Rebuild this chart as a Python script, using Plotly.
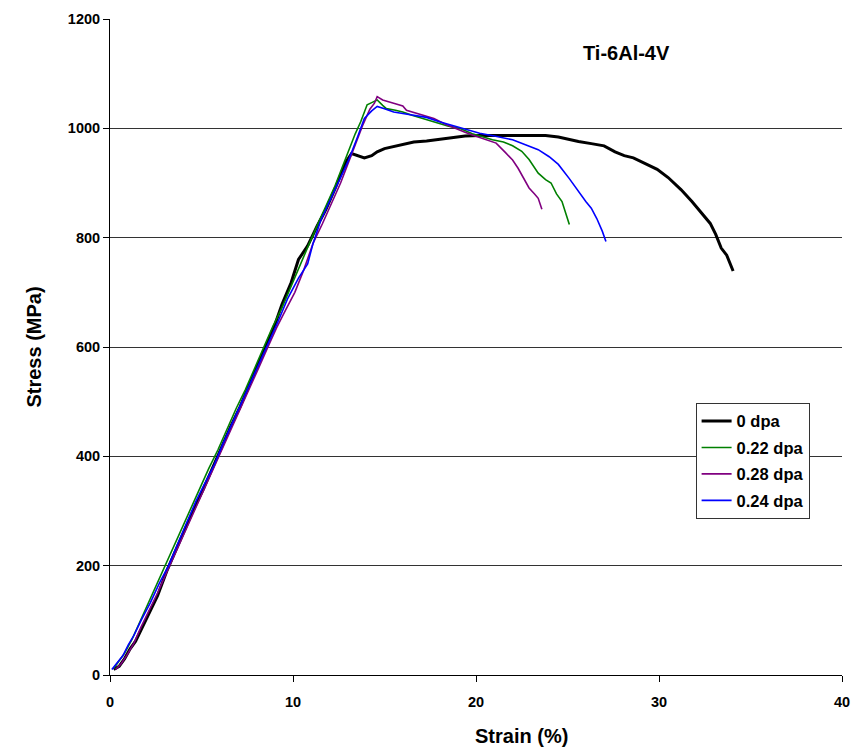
import plotly.graph_objects as go

# Tensile curves for Ti-6Al-4V at different irradiation doses
strain_0 = [0.2, 0.5, 0.8, 1.1, 1.4, 1.8, 2.2, 2.6, 3.1, 3.6, 4.1, 4.6, 5.1, 5.6, 6.1, 6.6,
            7.1, 7.6, 8.1, 8.5, 9.0, 9.4, 9.9, 10.3, 10.8, 11.3, 11.8, 12.3, 12.6, 12.9,
            13.2, 13.6, 13.9, 14.3, 14.6, 15.0, 15.5, 16.0, 16.6, 17.3, 18.0, 18.7, 19.4,
            20.2, 21.0, 22.0, 23.0, 23.8, 24.5, 25.0, 25.6, 26.3, 27.0, 27.6, 28.1, 28.6,
            29.2, 29.9, 30.5, 31.2, 31.8, 32.4, 32.8, 33.1, 33.4, 33.7, 34.05]
stress_0 = [10, 16, 30, 48, 62, 90, 115, 145, 190, 228, 268, 305, 340, 378, 418, 455,
            490, 530, 568, 602, 640, 678, 718, 760, 785, 820, 852, 890, 915, 939,
            954, 950, 946, 950, 957, 963, 967, 971, 975, 977, 980, 983, 986,
            987, 987, 988, 987, 987, 984, 980, 976, 972, 968, 957, 950, 946,
            937, 925, 910, 888, 866, 842, 826, 806, 781, 768, 739]

strain_022 = [0.2, 0.5, 0.8, 1.2, 1.6, 2.0, 2.4, 2.9, 3.4, 3.9, 4.4, 4.9, 5.4, 5.9, 6.4,
              6.9, 7.4, 7.9, 8.4, 8.9, 9.4, 9.9, 10.4, 10.9, 11.4, 11.9, 12.3, 12.6, 12.9,
              13.15, 13.4, 13.7, 14.05, 14.3, 14.6, 14.9, 15.1, 15.6, 16.0, 16.5, 17.1,
              17.8, 18.5, 19.1, 19.8, 20.4, 20.9, 21.5, 22.0, 22.5, 22.9, 23.4, 23.8,
              24.1, 24.4, 24.7, 24.9, 25.1]
stress_022 = [12, 25, 40, 65, 95, 125, 152, 190, 228, 265, 305, 340, 378, 412, 450,
              488, 522, 560, 600, 638, 672, 712, 752, 790, 828, 865, 895, 921, 948,
              969, 990, 1012, 1043, 1047, 1052, 1042, 1036, 1033, 1030, 1024, 1018,
              1010, 1004, 1000, 990, 984, 979, 975, 968, 958, 943, 918, 906,
              900, 880, 866, 845, 824]

strain_028 = [0.3, 0.6, 0.9, 1.3, 1.7, 2.1, 2.6, 3.1, 3.6, 4.1, 4.6, 5.1, 5.6, 6.1, 6.6,
              7.1, 7.6, 8.1, 8.6, 9.1, 9.6, 10.1, 10.6, 11.1, 11.6, 12.1, 12.6, 13.0,
              13.4, 13.8, 14.2, 14.45, 14.6, 14.9, 15.5, 16.0, 16.2, 16.6, 17.1, 17.7,
              18.3, 18.9, 19.4, 19.8, 20.4, 21.1, 21.6, 22.0, 22.3, 22.6, 22.9, 23.2,
              23.4, 23.6]
stress_028 = [10, 20, 35, 58, 88, 115, 150, 188, 225, 262, 300, 335, 372, 410, 448,
              485, 522, 560, 598, 635, 668, 700, 742, 790, 825, 862, 900, 935,
              970, 1005, 1035, 1046, 1058, 1052, 1046, 1041, 1033, 1029, 1024, 1018,
              1008, 999, 993, 988, 981, 973, 956, 942, 927, 910, 891, 880,
              872, 852]

strain_024 = [0.1, 0.4, 0.7, 1.0, 1.3, 1.7, 2.2, 2.7, 3.2, 3.7, 4.2, 4.7, 5.2, 5.7, 6.2,
              6.7, 7.2, 7.7, 8.2, 8.7, 9.2, 9.7, 10.3, 10.8, 11.1, 11.5, 12.0, 12.5,
              13.0, 13.5, 13.9, 14.3, 14.6, 15.0, 15.5, 16.0, 16.6, 17.3, 18.0, 18.7,
              19.4, 20.2, 21.0, 22.0, 22.7, 23.4, 24.0, 24.5, 25.1, 25.6, 26.0, 26.3,
              26.6, 26.9, 27.1]
stress_024 = [10, 22, 35, 55, 72, 100, 132, 168, 200, 240, 280, 318, 352, 385, 425,
              462, 498, 538, 575, 612, 648, 688, 726, 752, 790, 830, 866, 902,
              939, 982, 1018, 1032, 1040, 1036, 1030, 1027, 1024, 1020, 1012, 1005,
              999, 991, 986, 979, 970, 961, 948, 934, 908, 884, 866, 854,
              835, 812, 793]

series_names = ["0 dpa", "0.22 dpa", "0.28 dpa", "0.24 dpa"]
series_colors = ["#000000", "#008000", "#800080", "#0000FF"]
series_widths = [3, 1.6, 1.6, 1.6]
series_x = [strain_0, strain_022, strain_028, strain_024]
series_y = [stress_0, stress_022, stress_028, stress_024]

x_ticks = [0, 10, 20, 30, 40]
y_ticks = [0, 200, 400, 600, 800, 1000, 1200]

FONT = "Liberation Sans, Arial, sans-serif"

fig = go.Figure()
for i, (name, color, w, xs, ys) in enumerate(zip(series_names, series_colors, series_widths,
                                                 series_x, series_y)):
    fig.add_trace(go.Scatter(
        x=xs, y=ys, mode="lines", name=name, legendgroup=f"g{i}",
        line=dict(color=color, width=w),
    ))

fig.update_layout(
    width=861, height=751,
    margin=dict(l=110, r=11, t=17, b=76),
    paper_bgcolor="white", plot_bgcolor="white",
    font=dict(family=FONT, size=14, color="black"),
    showlegend=True,
    legend=dict(
        x=0.8, y=0.415, xanchor="left", yanchor="top",
        bgcolor="white", bordercolor="#333333", borderwidth=1,
        font=dict(family=FONT, size=16.5, color="black", weight="bold"),
        tracegroupgap=2,
        itemwidth=30,
    ),
    xaxis=dict(
        range=[0, 40], tickvals=x_ticks, ticktext=[str(v) for v in x_ticks],
        showgrid=False, zeroline=False,
        showline=True, linecolor="black", linewidth=1,
        ticks="outside", ticklen=6, tickcolor="black",
        ticklabelstandoff=8,
        tickfont=dict(family=FONT, size=14.5, weight="bold"),
    ),
    yaxis=dict(
        range=[0, 1200], tickvals=y_ticks, ticktext=[str(v) for v in y_ticks],
        showgrid=True, gridcolor="#333333", gridwidth=1, zeroline=False,
        showline=True, linecolor="black", linewidth=1,
        ticks="outside", ticklen=6, tickcolor="black",
        tickfont=dict(family=FONT, size=14.5, weight="bold"),
        title=dict(text="Stress (MPa)", standoff=20,
                   font=dict(family=FONT, size=20, weight="bold")),
    ),
    annotations=[
        dict(text="Strain (%)", xref="paper", yref="paper", x=0.562, y=-0.093,
             xanchor="center", yanchor="middle", showarrow=False,
             font=dict(family=FONT, size=20, weight="bold")),
        dict(text="Ti-6Al-4V", xref="x", yref="y", x=28.2, y=1138,
             xanchor="center", yanchor="middle", showarrow=False,
             font=dict(family=FONT, size=20, weight="bold")),
    ],
)

fig.write_html("out.html")
